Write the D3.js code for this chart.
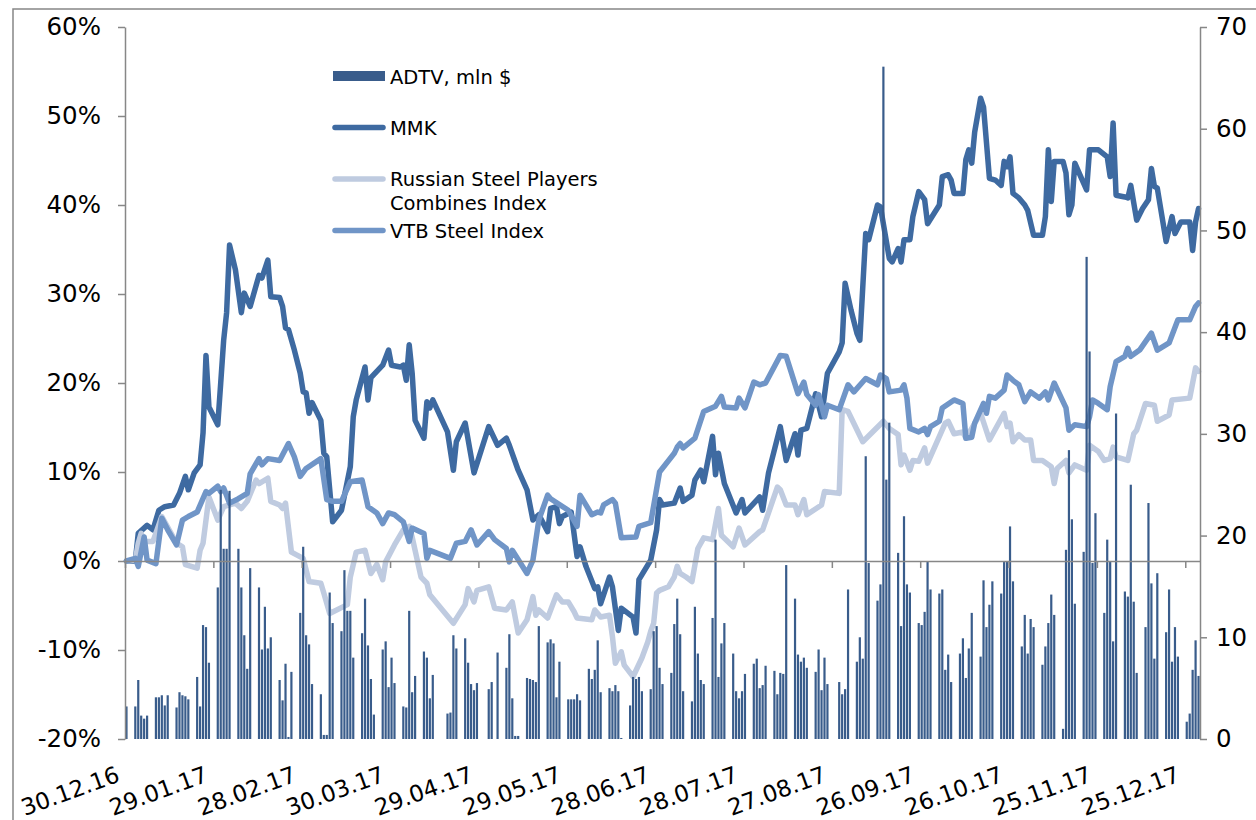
<!DOCTYPE html>
<html><head><meta charset="utf-8">
<script src="https://cdn.jsdelivr.net/npm/d3@7"></script>
<style>
body{margin:0;background:#fff;}
svg text{font-family:"DejaVu Sans",Verdana,sans-serif;fill:#000;}
</style>
</head><body>
<svg id="chart" width="1256" height="820"></svg>
<script>
// ---------------- DATA ----------------
const startDate = "2016-12-30";
const endDate = "2017-12-30";
const xTickLabels = ["30.12.16","29.01.17","28.02.17","30.03.17","29.04.17","29.05.17","28.06.17","28.07.17","27.08.17","26.09.17","26.10.17","25.11.17","25.12.17"];
const leftTicks = [-20,-10,0,10,20,30,40,50,60];
const rightTicks = [0,10,20,30,40,50,60,70];
const seriesNames = ["ADTV, mln $","MMK","Russian Steel Players Combines Index","VTB Steel Index"];

// ADTV, mln $ : one value per weekday (30.12.16, then Mon-Fri weeks to 29.12.17)
const adtv = [3.2,
 3.2,5.8,2.3,2.0,2.3,
 4.1,4.1,4.3,3.3,4.3,
 3.1,4.6,4.3,4.2,3.9,
 6.1,3.2,11.2,11.0,7.5,
 14.9,24.5,18.7,18.7,24.4,
 18.7,14.9,10.2,6.9,16.8,
 14.9,8.8,13.0,8.9,10.0,
 5.8,3.8,7.4,0.2,6.6,
 12.4,18.9,10.2,9.3,5.4,
 4.4,0.4,0.4,14.4,11.4,
 10.6,16.6,12.6,12.6,8.0,
 10.4,13.8,9.2,5.9,2.4,
 8.8,9.6,5.1,8.0,5.5,
 3.2,3.1,12.6,4.6,6.2,
 8.6,8.0,4.0,6.3,0,
 0,2.5,2.6,10.2,8.9,
 9.9,7.5,5.4,4.8,5.5,
 0,4.9,5.6,0,8.5,
 7.0,10.3,4.0,0.3,0.3,
 6.0,5.9,5.8,5.6,11.1,
 9.5,9.8,9.4,4.1,7.6,
 3.9,3.9,3.9,4.4,3.8,
 6.9,5.9,6.8,9.7,4.6,
 5.0,4.7,5.3,4.7,0.1,
 3.3,6.1,5.9,6.1,4.7,
 4.9,10.6,11.1,7.0,5.4,
 6.5,11.3,13.8,10.3,4.7,
 3.7,13.0,8.4,5.8,5.4,
 11.9,19.6,6.1,9.4,11.4,
 8.4,4.7,4.0,4.7,6.4,
 7.4,7.9,5.0,5.3,7.2,
 6.7,4.4,6.5,6.4,17.1,
 13.8,8.3,7.6,8.0,7.0,
 6.6,8.8,4.8,8.0,5.4,
 0,5.6,4.4,4.9,14.7,
 7.6,10.0,7.9,27.8,17.3,
 13.6,15.2,66.1,25.5,31.1,
 18.3,11.1,21.9,15.2,14.4,
 11.4,11.2,12.5,17.4,14.7,
 14.3,14.7,6.8,8.3,5.6,
 8.4,9.9,6.0,8.9,12.4,
 8.1,15.6,11.0,13.2,15.5,
 14.3,17.4,17.4,20.9,15.5,
 9.1,12.2,8.4,11.8,11.0,
 7.3,9.1,11.4,14.2,12.2,
 1.0,18.6,28.4,21.6,13.3,
 18.4,47.4,38.1,17.3,22.2,
 12.4,19.6,17.4,9.6,32.0,
 14.5,14.0,25.0,13.5,6.5,
 11.0,23.2,15.3,7.9,16.3,
 10.5,14.7,7.6,11.0,8.1,
 1.7,2.5,6.8,9.7,6.2];

// [days since 30.12.16, % change]
const mmk = [[0,0],[3,0],[4,3.1],[7,4.0],[9,3.5],[11,5.7],[13,6.1],[16,6.3],[18,7.6],[20,9.5],[21,8.0],[23,9.9],[25,10.8],[26,14.4],[27,23.1],[28,17.3],[31,15.3],[32,20.0],[33,24.8],[34,27.9],[35,35.5],[37,32.7],[39,27.9],[40,30.1],[42,28.6],[45,32.1],[46,31.8],[48,33.8],[49,29.7],[52,29.6],[53,28.6],[54,26.2],[55,26.0],[57,23.7],[59,21.1],[60,19.0],[61,18.9],[62,16.6],[63,17.8],[66,15.8],[67,12.1],[68,11.7],[70,4.4],[73,5.7],[76,10.6],[77,16.2],[78,18.1],[81,21.8],[82,18.1],[83,20.6],[87,22.0],[89,23.7],[90,22.0],[93,21.8],[94,22.0],[95,20.3],[96,24.3],[97,21.1],[98,15.8],[101,13.8],[102,17.9],[103,17.2],[104,18.1],[109,14.5],[111,10.2],[112,13.4],[115,15.5],[118,9.9],[123,15.1],[126,13.0],[129,13.8],[130,13.0],[133,10.2],[136,8.0],[138,4.6],[140,5.2],[143,3.3],[144,5.9],[146,6.1],[147,4.2],[148,5.0],[151,5.5],[153,0.5],[154,1.6],[156,-0.6],[159,-3.1],[160,-2.9],[161,-4.8],[164,-1.8],[165,-2.9],[167,-7.8],[168,-5.3],[172,-6.3],[173,-8.1],[174,-2.1],[178,0.1],[180,3.5],[181,6.9],[182,6.3],[186,6.5],[188,8.2],[189,6.7],[192,7.4],[193,9.1],[195,10.2],[196,8.9],[197,10.6],[199,14.0],[200,9.7],[201,12.1],[203,8.7],[207,5.4],[209,6.9],[210,5.4],[215,7.2],[216,5.7],[218,9.9],[222,15.1],[224,11.3],[227,14.3],[228,11.9],[229,14.7],[231,14.9],[234,18.8],[236,16.2],[238,21.1],[242,23.5],[243,24.5],[244,31.2],[246,28.2],[248,25.6],[249,24.8],[251,36.8],[252,36.1],[255,40.0],[256,39.8],[259,34.0],[260,33.6],[262,35.1],[263,33.6],[264,36.1],[266,36.1],[267,38.7],[269,41.5],[271,40.6],[272,37.9],[276,40.0],[277,43.2],[279,43.4],[280,42.8],[281,41.3],[284,41.3],[285,45.1],[286,46.2],[287,44.7],[288,48.2],[290,52.0],[291,51.0],[293,43.0],[295,42.8],[297,42.2],[298,44.9],[299,44.3],[300,45.4],[301,41.3],[303,40.8],[305,40.0],[306,39.4],[308,36.6],[311,36.6],[312,38.7],[313,46.2],[314,40.4],[315,44.9],[318,44.9],[319,43.6],[320,38.9],[321,40.0],[322,44.7],[324,43.2],[326,41.7],[327,46.2],[330,46.2],[333,45.4],[334,43.2],[335,49.2],[336,41.1],[339,40.9],[340,40.8],[341,42.2],[343,38.3],[345,39.6],[347,40.6],[348,44.1],[349,42.1],[350,41.9],[353,35.9],[355,38.7],[356,36.8],[358,38.1],[361,38.1],[362,34.9],[363,38.1],[364,39.6]];

const rusSteel = [[0,0],[3,0.1],[4,2.0],[5,3.1],[6,2.2],[9,2.2],[12,5.0],[17,2.0],[19,1.6],[20,-0.4],[24,-0.8],[25,1.2],[26,2.0],[28,7.2],[31,4.6],[33,6.1],[37,6.5],[39,5.9],[41,6.7],[44,9.1],[45,8.7],[48,9.3],[49,6.7],[52,6.3],[53,5.9],[54,6.5],[56,1.0],[60,0.3],[62,-2.3],[66,-2.5],[67,-3.6],[69,-5.9],[75,-4.9],[76,-1.8],[78,1.0],[81,1.2],[83,-1.4],[85,-0.4],[87,-2.1],[88,-0.1],[91,1.8],[94,3.5],[96,3.9],[97,2.7],[98,1.2],[100,-1.8],[102,-2.5],[103,-3.8],[111,-7.0],[115,-4.9],[116,-3.1],[118,-4.6],[119,-3.3],[123,-2.9],[125,-5.3],[129,-5.5],[131,-4.6],[133,-8.1],[136,-6.6],[138,-4.0],[139,-6.1],[140,-5.5],[143,-6.4],[146,-3.8],[148,-4.6],[150,-4.6],[152,-5.7],[153,-6.4],[158,-6.6],[159,-5.5],[161,-6.3],[164,-6.1],[165,-8.5],[166,-11.5],[168,-10.2],[169,-11.7],[172,-13.0],[175,-10.9],[177,-9.1],[178,-7.9],[179,-7.0],[180,-3.6],[181,-3.3],[184,-2.9],[186,-1.8],[187,-0.6],[188,-1.4],[190,-1.8],[192,-2.3],[194,1.4],[196,2.6],[199,2.4],[201,5.9],[202,2.9],[206,1.6],[208,3.7],[210,1.8],[215,3.3],[216,3.5],[221,8.3],[222,8.0],[224,6.3],[227,6.3],[228,5.2],[230,6.9],[231,5.2],[236,6.3],[237,7.8],[242,7.6],[243,17.0],[245,16.8],[250,13.4],[257,15.7],[259,14.9],[262,14.2],[263,10.8],[264,11.9],[266,10.2],[267,11.3],[269,11.2],[271,12.7],[272,11.0],[278,15.5],[279,15.7],[281,14.3],[284,14.5],[285,13.8],[287,14.9],[290,16.6],[293,13.6],[298,16.6],[299,15.1],[300,15.5],[301,13.4],[303,14.2],[305,13.6],[307,13.6],[308,11.3],[311,11.3],[314,10.6],[315,8.7],[316,10.4],[319,11.3],[320,9.9],[322,10.8],[326,10.2],[327,13.0],[330,12.3],[332,11.3],[334,11.5],[335,12.8],[336,11.7],[340,11.3],[342,14.3],[343,14.7],[346,17.7],[349,17.5],[350,15.7],[354,16.4],[355,18.1],[361,18.3],[363,21.7],[364,21.3]];

const vtbSteel = [[0,0],[3,0.3],[4,-0.6],[6,2.7],[7,0.1],[10,-0.3],[12,4.8],[14,3.5],[17,1.8],[19,4.6],[21,5.0],[24,5.5],[27,7.8],[28,7.6],[31,8.4],[32,7.8],[33,8.2],[35,6.5],[38,7.0],[41,7.6],[42,9.8],[45,11.5],[46,10.8],[48,11.5],[52,11.3],[55,13.2],[57,11.7],[59,9.5],[61,10.4],[66,11.5],[68,6.9],[70,6.7],[73,6.7],[76,8.9],[80,9.1],[82,6.1],[85,5.4],[87,4.2],[89,5.4],[91,5.2],[94,4.4],[96,2.2],[97,3.7],[101,3.1],[102,0.3],[103,1.2],[110,0.3],[112,2.0],[115,2.2],[117,3.5],[119,1.8],[123,3.3],[125,2.4],[129,1.4],[130,-0.1],[131,1.2],[136,-1.4],[138,0.1],[140,4.6],[143,7.4],[144,7.0],[150,5.7],[153,3.9],[154,7.4],[156,6.3],[158,5.2],[160,5.5],[161,5.4],[162,6.3],[165,6.9],[166,6.5],[168,2.6],[173,2.7],[174,3.9],[178,4.3],[181,10.0],[186,12.1],[187,12.8],[188,13.2],[189,12.7],[193,13.8],[196,16.8],[200,17.4],[202,18.5],[203,17.3],[207,17.2],[208,18.3],[210,17.2],[213,20.1],[215,19.8],[217,20.0],[222,23.1],[224,23.0],[228,18.8],[230,20.1],[231,18.7],[234,17.5],[235,18.7],[237,16.2],[238,17.5],[242,17.0],[245,19.8],[247,19.0],[251,20.5],[255,19.8],[256,20.9],[258,20.5],[259,19.0],[263,19.2],[264,19.8],[265,18.3],[266,14.9],[269,14.5],[271,14.9],[272,14.2],[273,15.1],[276,15.7],[277,17.2],[281,18.1],[284,17.7],[285,13.8],[287,13.9],[288,15.5],[291,17.7],[292,16.6],[293,18.5],[295,18.3],[298,19.2],[299,20.9],[301,20.3],[303,19.8],[305,17.9],[307,19.0],[310,18.3],[312,19.0],[313,18.1],[315,20.0],[319,17.2],[320,14.7],[322,15.3],[326,15.1],[327,16.2],[328,18.1],[330,17.7],[333,17.0],[334,19.6],[336,22.4],[339,23.0],[340,23.9],[341,23.0],[344,23.7],[348,25.6],[350,23.7],[354,24.5],[357,27.1],[361,27.1],[363,28.6],[364,29.0]];

// ---------------- STYLE ----------------
const colBar = "#395C8B", colMMK = "#3E6AA1", colRus = "#BFCBE0", colVTB = "#7095C7", colAxis = "#878787";

// ---------------- CHART ----------------
const svg = d3.select("#chart");
const parse = d3.utcParse("%Y-%m-%d");
const start = parse(startDate), end = parse(endDate);
const x = d3.scaleUtc().domain([start, end]).range([125, 1200]);
const yL = d3.scaleLinear().domain([-20, 60]).range([739, 27]);
const yR = d3.scaleLinear().domain([0, 70]).range([739, 27]);
const dayDate = n => d3.utcDay.offset(start, n);
const center = d => x(d3.utcHour.offset(d, 12));

// outer frame
svg.append("rect").attr("x", 13).attr("y", 9).attr("width", 1400).attr("height", 900)
  .attr("fill", "none").attr("stroke", colAxis).attr("stroke-width", 1.5);

// lines
const line = d3.line().x(p => center(dayDate(p[0]))).y(p => yL(p[1])).curve(d3.curveLinear);
[[mmk, colMMK], [rusSteel, colRus], [vtbSteel, colVTB]].forEach(([data, c]) => {
  svg.append("path").datum(data).attr("d", line).attr("fill", "none")
    .attr("stroke", c).attr("stroke-width", 5.5).attr("stroke-linejoin", "round").attr("stroke-linecap", "round");
});

// bars
const weekdays = d3.utcDays(start, end).filter(d => d.getUTCDay() % 6 !== 0);
const barData = weekdays.map((d, i) => ({d, v: adtv[i] || 0}));
svg.append("g").selectAll("rect").data(barData.filter(b => b.v > 0)).join("rect")
  .attr("x", b => center(b.d) - 1.1).attr("width", 2.2)
  .attr("y", b => yR(b.v)).attr("height", b => yR(0) - yR(b.v))
  .attr("fill", colBar);

// axes
function styleAxis(g, size) {
  g.selectAll(".domain").attr("stroke", colAxis).attr("stroke-width", 1.5);
  g.selectAll(".tick line").attr("stroke", colAxis).attr("stroke-width", 1.5);
  g.selectAll(".tick text").attr("font-size", size).attr("fill", "#000")
    .attr("font-family", '"DejaVu Sans",Verdana,sans-serif');
}
const tickDates = xTickLabels.map((_, i) => dayDate(30 * i));
const gx = svg.append("g").attr("transform", `translate(0,${yL(0)})`)
  .call(d3.axisBottom(x).tickValues(tickDates).tickSize(7).tickSizeOuter(0).tickFormat(""));
styleAxis(gx, 0);

const gl = svg.append("g").attr("transform", "translate(125,0)")
  .call(d3.axisLeft(yL).tickValues(leftTicks).tickSize(7).tickSizeOuter(0).tickPadding(17).tickFormat(d => d + "%"));
styleAxis(gl, 24.5);

const gr = svg.append("g").attr("transform", "translate(1200,0)")
  .call(d3.axisRight(yR).tickValues(rightTicks).tickSize(7).tickSizeOuter(0).tickPadding(9));
styleAxis(gr, 24.5);

// rotated x labels
svg.append("g").selectAll("text").data(tickDates).join("text")
  .attr("transform", (d, i) => `translate(${x(d) - 4},781) rotate(-20)`)
  .attr("text-anchor", "end").attr("font-size", 23)
  .text((d, i) => xTickLabels[i]);

// legend
const lg = svg.append("g").attr("font-size", 19.5);
lg.append("rect").attr("x", 333).attr("y", 71).attr("width", 52).attr("height", 10).attr("fill", colBar);
lg.append("text").attr("x", 390).attr("y", 84).text(seriesNames[0]);
const legLines = [[127.5, colMMK], [179, colRus], [230.5, colVTB]];
legLines.forEach(([yy, c]) => lg.append("line").attr("x1", 335).attr("x2", 383).attr("y1", yy).attr("y2", yy)
  .attr("stroke", c).attr("stroke-width", 5.5).attr("stroke-linecap", "round"));
lg.append("text").attr("x", 390).attr("y", 135).text(seriesNames[1]);
lg.append("text").attr("x", 390).attr("y", 186).text("Russian Steel Players");
lg.append("text").attr("x", 390).attr("y", 209.5).text("Combines Index");
lg.append("text").attr("x", 390).attr("y", 238).text(seriesNames[3]);
</script>
</body></html>
